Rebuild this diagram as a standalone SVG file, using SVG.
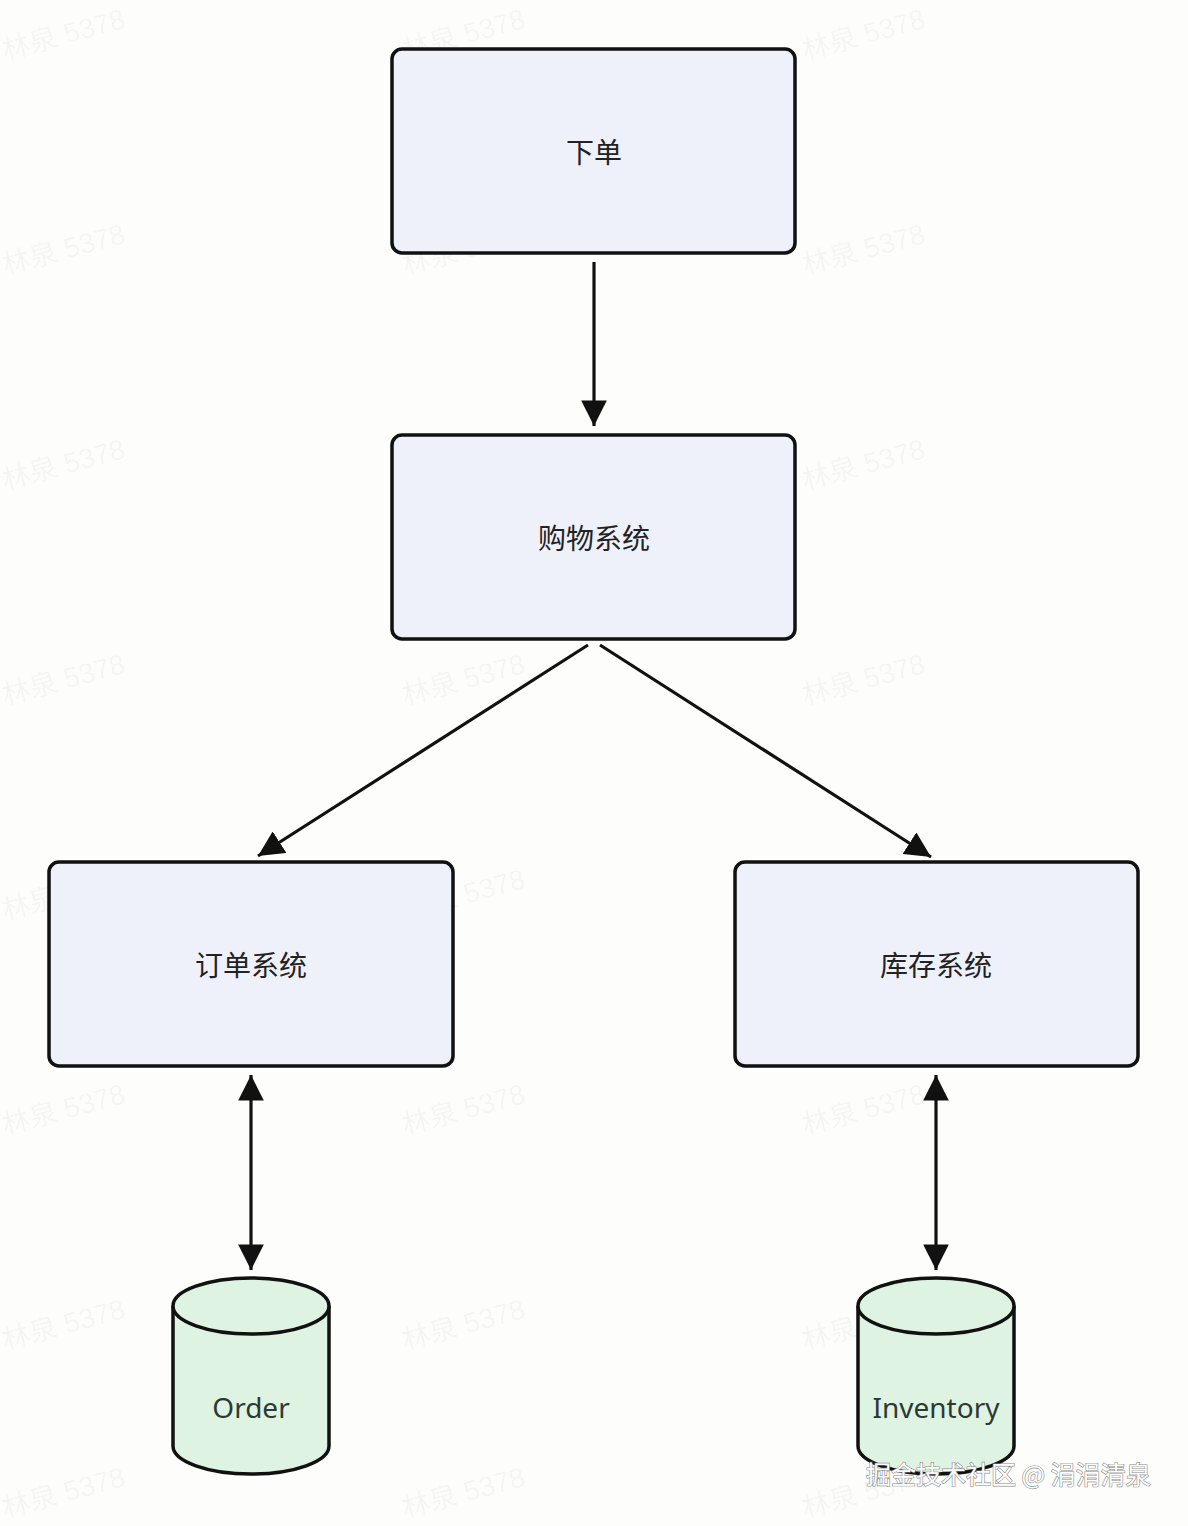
<svg xmlns="http://www.w3.org/2000/svg" width="1188" height="1526" viewBox="0 0 1188 1526">
<style>
.box{fill:#eff1fa;stroke:#111;stroke-width:3.5}
.db{fill:#dff3e2;stroke:#111;stroke-width:3.5}
.lbl{font-family:"Noto Sans","Noto Sans CJK SC",sans-serif;font-size:28px;fill:#222;text-anchor:middle;dominant-baseline:central}
.dbl{font-family:"Noto Sans","Noto Sans CJK SC",sans-serif;font-size:28px;fill:#2c3a33;text-anchor:middle}
.edge{stroke:#111;stroke-width:3.2;fill:none}
.wm{font-family:"Liberation Sans","Noto Sans CJK SC",sans-serif;font-size:28px;fill:#000;fill-opacity:0.045}
.sig{font-family:"Noto Sans CJK SC",sans-serif;font-size:25px;fill:#fff;stroke:#888;stroke-width:1.2;paint-order:stroke}
</style>
<defs>
<marker id="ah" viewBox="0 0 10 10" refX="10" refY="5" markerWidth="8" markerHeight="8" markerUnits="strokeWidth" orient="auto-start-reverse">
<path d="M0,0 L10,5 L0,10 z" fill="#111"/>
</marker>
</defs>
<rect width="1188" height="1526" fill="#fdfdfb"/>
<g id="watermarks">
<text class="wm" transform="translate(5,60) rotate(-15)">林泉 5378</text>
<text class="wm" transform="translate(405,60) rotate(-15)">林泉 5378</text>
<text class="wm" transform="translate(805,60) rotate(-15)">林泉 5378</text>
<text class="wm" transform="translate(5,275) rotate(-15)">林泉 5378</text>
<text class="wm" transform="translate(405,275) rotate(-15)">林泉 5378</text>
<text class="wm" transform="translate(805,275) rotate(-15)">林泉 5378</text>
<text class="wm" transform="translate(5,490) rotate(-15)">林泉 5378</text>
<text class="wm" transform="translate(405,490) rotate(-15)">林泉 5378</text>
<text class="wm" transform="translate(805,490) rotate(-15)">林泉 5378</text>
<text class="wm" transform="translate(5,705) rotate(-15)">林泉 5378</text>
<text class="wm" transform="translate(405,705) rotate(-15)">林泉 5378</text>
<text class="wm" transform="translate(805,705) rotate(-15)">林泉 5378</text>
<text class="wm" transform="translate(5,920) rotate(-15)">林泉 5378</text>
<text class="wm" transform="translate(405,920) rotate(-15)">林泉 5378</text>
<text class="wm" transform="translate(805,920) rotate(-15)">林泉 5378</text>
<text class="wm" transform="translate(5,1135) rotate(-15)">林泉 5378</text>
<text class="wm" transform="translate(405,1135) rotate(-15)">林泉 5378</text>
<text class="wm" transform="translate(805,1135) rotate(-15)">林泉 5378</text>
<text class="wm" transform="translate(5,1350) rotate(-15)">林泉 5378</text>
<text class="wm" transform="translate(405,1350) rotate(-15)">林泉 5378</text>
<text class="wm" transform="translate(805,1350) rotate(-15)">林泉 5378</text>
<text class="wm" transform="translate(5,1518) rotate(-15)">林泉 5378</text>
<text class="wm" transform="translate(405,1518) rotate(-15)">林泉 5378</text>
<text class="wm" transform="translate(805,1518) rotate(-15)">林泉 5378</text>
</g>
<g id="connectors">
<line class="edge" x1="594" y1="262" x2="594" y2="426" marker-end="url(#ah)"/>
<line class="edge" x1="588" y1="645" x2="258" y2="856" marker-end="url(#ah)"/>
<line class="edge" x1="600" y1="645" x2="931" y2="857" marker-end="url(#ah)"/>
<line class="edge" x1="251" y1="1075" x2="251" y2="1270" marker-start="url(#ah)" marker-end="url(#ah)"/>
<line class="edge" x1="936" y1="1075" x2="936" y2="1270" marker-start="url(#ah)" marker-end="url(#ah)"/>
</g>
<g id="node-xiadan">
<rect class="box" x="392" y="49" width="403" height="204" rx="10"/>
<text class="lbl" x="594" y="152">下单</text>
</g>
<g id="node-gouwu">
<rect class="box" x="392" y="435" width="403" height="204" rx="10"/>
<text class="lbl" x="594" y="538">购物系统</text>
</g>
<g id="node-dingdan">
<rect class="box" x="49" y="862" width="404" height="204" rx="10"/>
<text class="lbl" x="251" y="965">订单系统</text>
</g>
<g id="node-kucun">
<rect class="box" x="735" y="862" width="403" height="204" rx="10"/>
<text class="lbl" x="936" y="965">库存系统</text>
</g>
<g id="db-order">
<path class="db" d="M173,1306 A78,28 0 0 1 329,1306 L329,1446 A78,28 0 0 1 173,1446 Z"/>
<path class="db" d="M173,1306 A78,28 0 0 0 329,1306" fill="none"/>
<text class="dbl" x="251" y="1418">Order</text>
</g>
<g id="db-inventory">
<path class="db" d="M858,1306 A78,28 0 0 1 1014,1306 L1014,1446 A78,28 0 0 1 858,1446 Z"/>
<path class="db" d="M858,1306 A78,28 0 0 0 1014,1306" fill="none"/>
<text class="dbl" x="936" y="1418">Inventory</text>
</g>
<text class="sig" x="866" y="1484">掘金技术社区 @ 涓涓清泉</text>
</svg>
